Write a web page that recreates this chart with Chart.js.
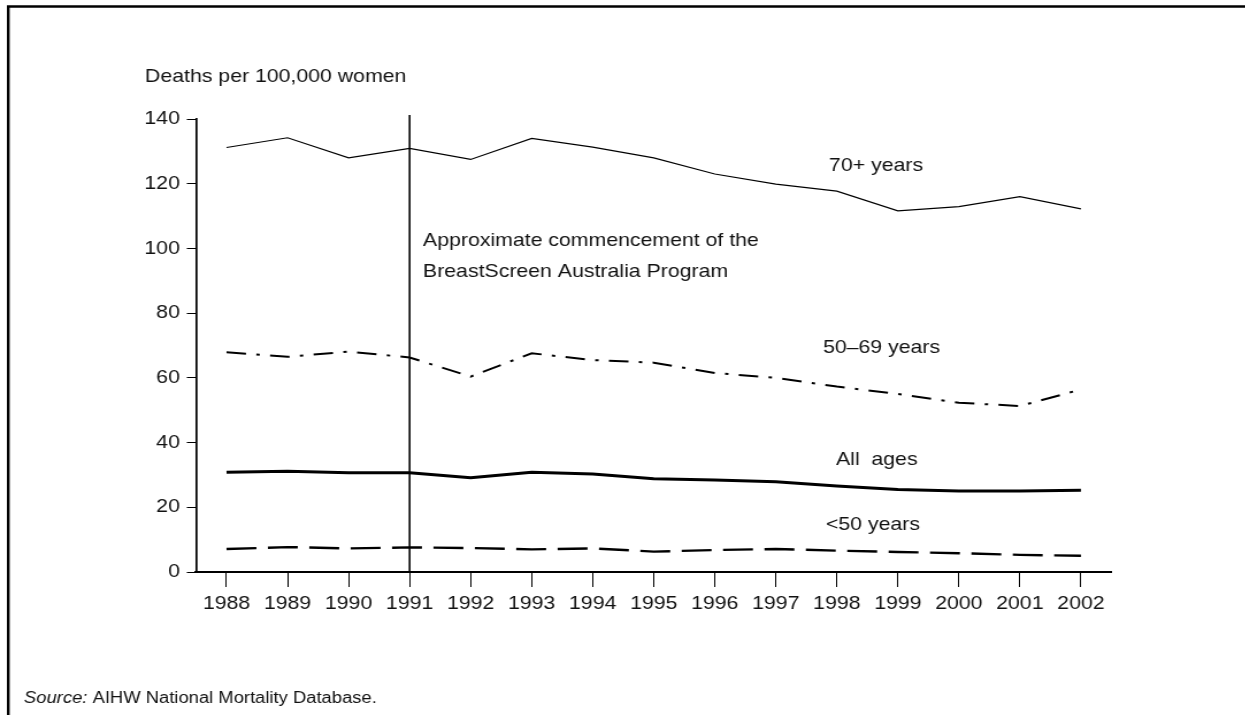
<!DOCTYPE html>
<html>
<head>
<meta charset="utf-8">
<title>Breast cancer deaths by age group, 1988–2002</title>
<script src="https://cdn.jsdelivr.net/npm/chart.js@4.4.1/dist/chart.umd.min.js"></script>
<style>
    html, body { margin: 0; padding: 0; background: #fff; overflow: hidden; }
    /* the figure is set in a wide face, so the whole drawing is stretched sideways */
    #wrap { width: 1083px; height: 715px; transform: scaleX(1.15); transform-origin: 0 0; }
</style>
</head>
<body>
<div id="wrap"><canvas id="deathsChart" width="1083" height="715"></canvas></div>
<script>
const years = ['1988', '1989', '1990', '1991', '1992', '1993', '1994', '1995',
    '1996', '1997', '1998', '1999', '2000', '2001', '2002'];
const seventyPlus = [131.2, 134.2, 128.0, 130.9, 127.5, 134.0, 131.3, 128.0, 123.0, 119.9, 117.7, 111.6, 112.9, 116.0, 112.2];
const fiftyToSixtyNine = [67.9, 66.5, 68.1, 66.3, 60.4, 67.6, 65.5, 64.7, 61.5, 60.0, 57.3, 55.0, 52.3, 51.3, 56.4];
const allAges = [30.8, 31.1, 30.7, 30.7, 29.1, 30.8, 30.3, 28.8, 28.4, 27.9, 26.6, 25.5, 25.0, 25.0, 25.3];
const underFifty = [7.1, 7.7, 7.3, 7.6, 7.4, 7.0, 7.3, 6.3, 6.8, 7.1, 6.6, 6.2, 5.8, 5.3, 5.0];
const yMin = 0;
const yMax = 140;
const yStep = 20;
const programYear = '1991';

const ink = '#000';
const textInk = '#111';
const family = "'Liberation Sans', Arial, Helvetica, sans-serif";
const sx = 1.15; // horizontal stretch applied by the wrapper
const W = 1083;

// free text placed on the figure (x in screen pixels, y = text middle)
const notes = [
    { text: 'Deaths per 100,000 women', x: 145, y: 77 },
    { text: 'Approximate commencement of the', x: 423, y: 241 },
    { text: 'BreastScreen Australia Program', x: 423, y: 272 },
    { text: '70+ years', x: 829, y: 166 },
    { text: '50–69 years', x: 823, y: 348 },
    { text: 'All  ages', x: 836, y: 460 },
    { text: '<50 years', x: 826, y: 525 }
];

const figureExtras = {
    id: 'figureExtras',
    afterDraw(chart) {
        const ctx = chart.ctx;
        const x = chart.scales.x;
        const y = chart.scales.y;
        ctx.save();

        // frame along the top and left edge
        ctx.strokeStyle = ink;
        ctx.lineWidth = 2.4;
        ctx.beginPath();
        ctx.moveTo(8.3 / sx, 715);
        ctx.lineTo(8.3 / sx, 6.5);
        ctx.lineTo(W, 6.5);
        ctx.stroke();

        // marker for the start of the screening program
        const px = x.getPixelForValue(years.indexOf(programYear));
        ctx.lineWidth = 1.6;
        ctx.beginPath();
        ctx.moveTo(px, 115);
        ctx.lineTo(px, y.getPixelForValue(yMin));
        ctx.stroke();

        ctx.fillStyle = textInk;
        ctx.textBaseline = 'middle';
        ctx.textAlign = 'left';
        ctx.font = `18.5px ${family}`;
        notes.forEach(n => ctx.fillText(n.text, n.x / sx, n.y));

        // source line
        ctx.font = `italic 16px ${family}`;
        const lead = 'Source:';
        ctx.fillText(lead, 24 / sx, 699);
        const w = ctx.measureText(lead + ' ').width;
        ctx.font = `16px ${family}`;
        ctx.fillText('AIHW National Mortality Database.', 24 / sx + w, 699);
        ctx.restore();
    }
};

const series = [
    { label: '70+ years', data: seventyPlus, borderWidth: 1.2, borderDash: [] },
    { label: '50–69 years', data: fiftyToSixtyNine, borderWidth: 2, borderDash: [17, 9, 3, 9] },
    { label: 'All ages', data: allAges, borderWidth: 3, borderDash: [] },
    { label: '<50 years', data: underFifty, borderWidth: 2.4, borderDash: [26, 10] }
];

new Chart(document.getElementById('deathsChart'), {
    type: 'line',
    data: {
        labels: years,
        datasets: series.map(s => ({
            label: s.label,
            data: s.data,
            borderColor: ink,
            borderWidth: s.borderWidth,
            borderDash: s.borderDash,
            pointRadius: 0,
            tension: 0,
            fill: false
        }))
    },
    options: {
        responsive: false,
        animation: false,
        devicePixelRatio: 1,
        layout: { padding: { left: 0, top: 119, right: (1245 - 1111) / sx, bottom: 0 } },
        plugins: {
            legend: { display: false },
            tooltip: { enabled: false },
            title: { display: false }
        },
        scales: {
            x: {
                offset: true,
                afterFit(scale) { scale.height = 143; },
                border: { display: true, color: ink, width: 2 },
                grid: { drawOnChartArea: false, drawTicks: true, tickLength: 15, color: ink, lineWidth: 1, offset: false },
                ticks: { color: textInk, font: { family: family, size: 18.5 }, padding: 6, maxRotation: 0, autoSkip: false }
            },
            y: {
                min: yMin,
                max: yMax,
                afterFit(scale) { scale.width = 196 / sx; },
                border: { display: true, color: ink, width: 1.7 },
                grid: { drawOnChartArea: false, drawTicks: true, tickLength: 8, color: ink, lineWidth: 1 },
                ticks: { stepSize: yStep, color: textInk, font: { family: family, size: 18.5 }, padding: 6 }
            }
        }
    },
    plugins: [figureExtras]
});
</script>
</body>
</html>
